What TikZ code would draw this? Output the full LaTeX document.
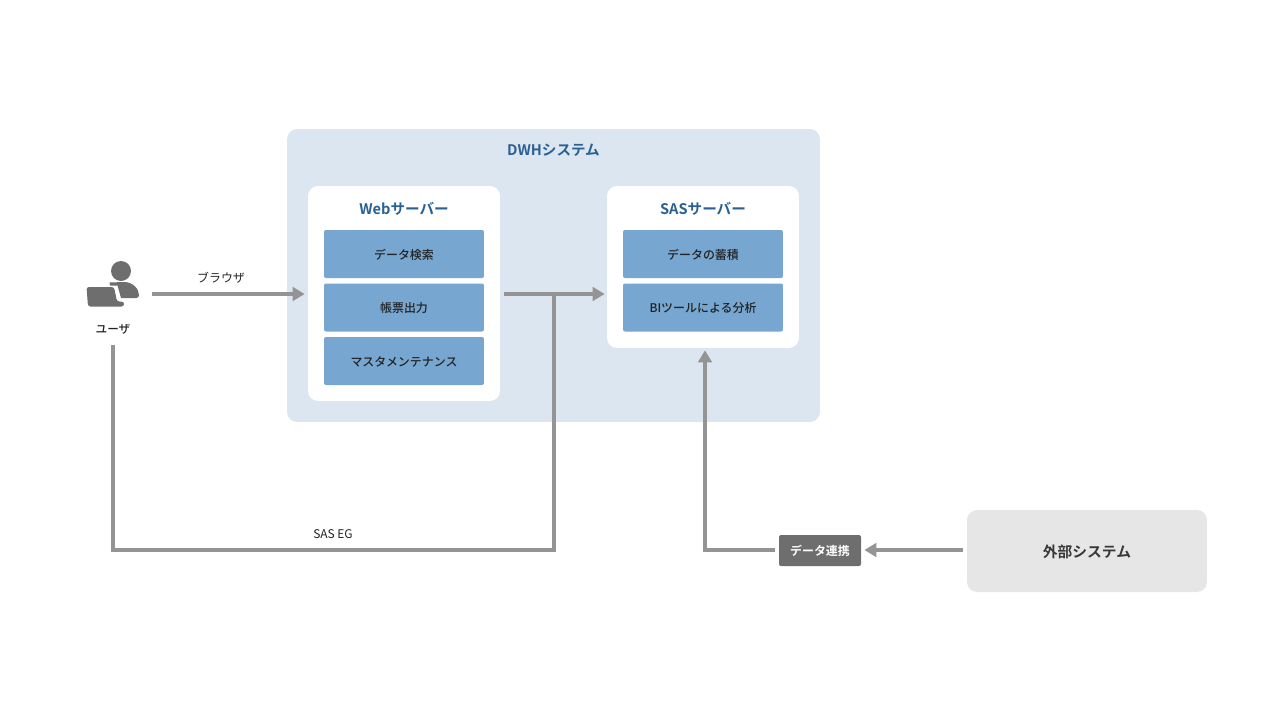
\documentclass[tikz,border=0pt]{standalone}
\usepackage{fontspec}
\setmainfont{Noto Sans CJK JP Medium}[BoldFont={Noto Sans CJK JP Bold}]
\newfontfamily\regularfont{Noto Sans CJK JP}
\usetikzlibrary{arrows.meta,calc,positioning}
\definecolor{areablue}{HTML}{DBE6F0}
\definecolor{titleblue}{HTML}{2A6192}
\definecolor{itemblue}{HTML}{77A7D1}
\definecolor{linegray}{HTML}{949494}
\definecolor{darkgray}{HTML}{6E6E6E}
\definecolor{extgray}{HTML}{E6E6E6}
\definecolor{inktext}{HTML}{222222}
\tikzset{area/.style={
            fill=areablue,
            rounded corners=0.2cm,
            minimum width=10.66cm,
            minimum height=5.86cm
        },
        server/.style={
            fill=white,
            rounded corners=0.2cm,
            minimum width=3.84cm
        },
        item/.style={
            fill=itemblue,
            rounded corners=0.04cm,
            minimum width=3.2cm,
            minimum height=0.96cm,
            inner sep=0pt,
            text=inktext,
            text height=6.6pt,
            text depth=0.8pt,
            font=\fontsize{6.8pt}{8pt}\selectfont
        },
        title/.style={
            text=titleblue,
            inner sep=0pt,
            font=\fontsize{8.3pt}{10pt}\selectfont\bfseries
        },
        label/.style={
            text=inktext,
            inner sep=0pt,
            font=\fontsize{6.8pt}{8pt}\regularfont
        },
        flow/.style={
            draw=linegray,
            line width=0.08cm,
            -{Triangle[length=0.24cm,width=0.27cm]}
        }
    }

\begin{document}
\begin{tikzpicture}[x=0.02cm,y=-0.02cm]
        \useasboundingbox (0,0) rectangle (1280,720);

        % boxes
        \node[area] at (553.5,275.5) (dwh) {};
        \node[server,minimum height=4.3cm] at (404,293.5) (web) {};
        \node[server,minimum height=3.24cm] at (703,267) (sas) {};
        \node[title] at (553.5,150.5) (dwhtitle) {DWHシステム};
        \node[title] at (404,208.5) (webtitle) {Webサーバー};
        \node[title] at (703,208.5) (sastitle) {SASサーバー};

        \node[item] at (404,254) (search) {データ検索};
        \node[item] at (404,307.5) (report) {帳票出力};
        \node[item] at (404,361) (master) {マスタメンテナンス};
        \node[item] at (703,254) (store) {データの蓄積};
        \node[item] at (703,307.5) (bi) {BIツールによる分析};

        \node[fill=extgray,rounded corners=0.2cm,minimum width=4.8cm,minimum height=1.64cm,inner sep=0pt,
            text height=8.4pt,text depth=1pt,
            font=\fontsize{8.4pt}{10pt}\selectfont\bfseries,text=inktext!90!white] at (1087,551) (ext) {外部システム};
        \node[fill=darkgray,rounded corners=0.04cm,minimum width=1.64cm,minimum height=0.62cm,inner sep=0pt,
            text height=6.6pt,text depth=0.8pt,
            text=white,font=\fontsize{6.8pt}{8pt}\selectfont\bfseries] at (820,550.5) (link) {データ連携};

        % user icon
        \fill[darkgray] (121,271) circle (10);
        \fill[darkgray] (109.5,282.5) -- (124,282) .. controls (133,282) and (139,289) .. (139,295)
            .. controls (139,297) and (138,298) .. (136,298) -- (121,298) -- (117.5,285.5) -- (110,285.5) -- cycle;
        \fill[darkgray,rounded corners=0.05cm] (86.5,287) -- (114,287) -- (117,301.5) -- (124,301.5) -- (124,306.5) -- (88,306.5) -- cycle;
        \node[label,font=\fontsize{6.6pt}{8pt}\selectfont] at (113,329.5) (user) {ユーザ};
        \coordinate (usericon) at (113,294);

        % connectors
        \node[label] at (221,277.5) (browser) {ブラウザ};
        \node[label] at (333,534.5) (saseg) {SAS EG};
        \coordinate (junction) at (554,294);
        \coordinate (turnleft) at (113,550);
        \coordinate (turnlink) at (705,550);

        \draw[flow,shorten <=0.78cm,shorten >=0.06cm] (usericon) -- (usericon -| web.west);
        \draw[flow,shorten <=0.08cm,shorten >=0.04cm] (web.east |- junction) -- (junction -| sas.west);
        \draw[draw=linegray,line width=0.08cm,shorten <=0.2cm] (user.south) -- (turnleft) -- (turnleft -| junction) -- (junction);
        \draw[flow,shorten <=0.08cm,shorten >=0.04cm] (link.west |- turnlink) -- (turnlink) -- (turnlink |- sas.south);
        \draw[flow,shorten <=0.08cm,shorten >=0.06cm] (ext.west |- turnlink) -- (link.east |- turnlink);

    \end{tikzpicture}
\end{document}
